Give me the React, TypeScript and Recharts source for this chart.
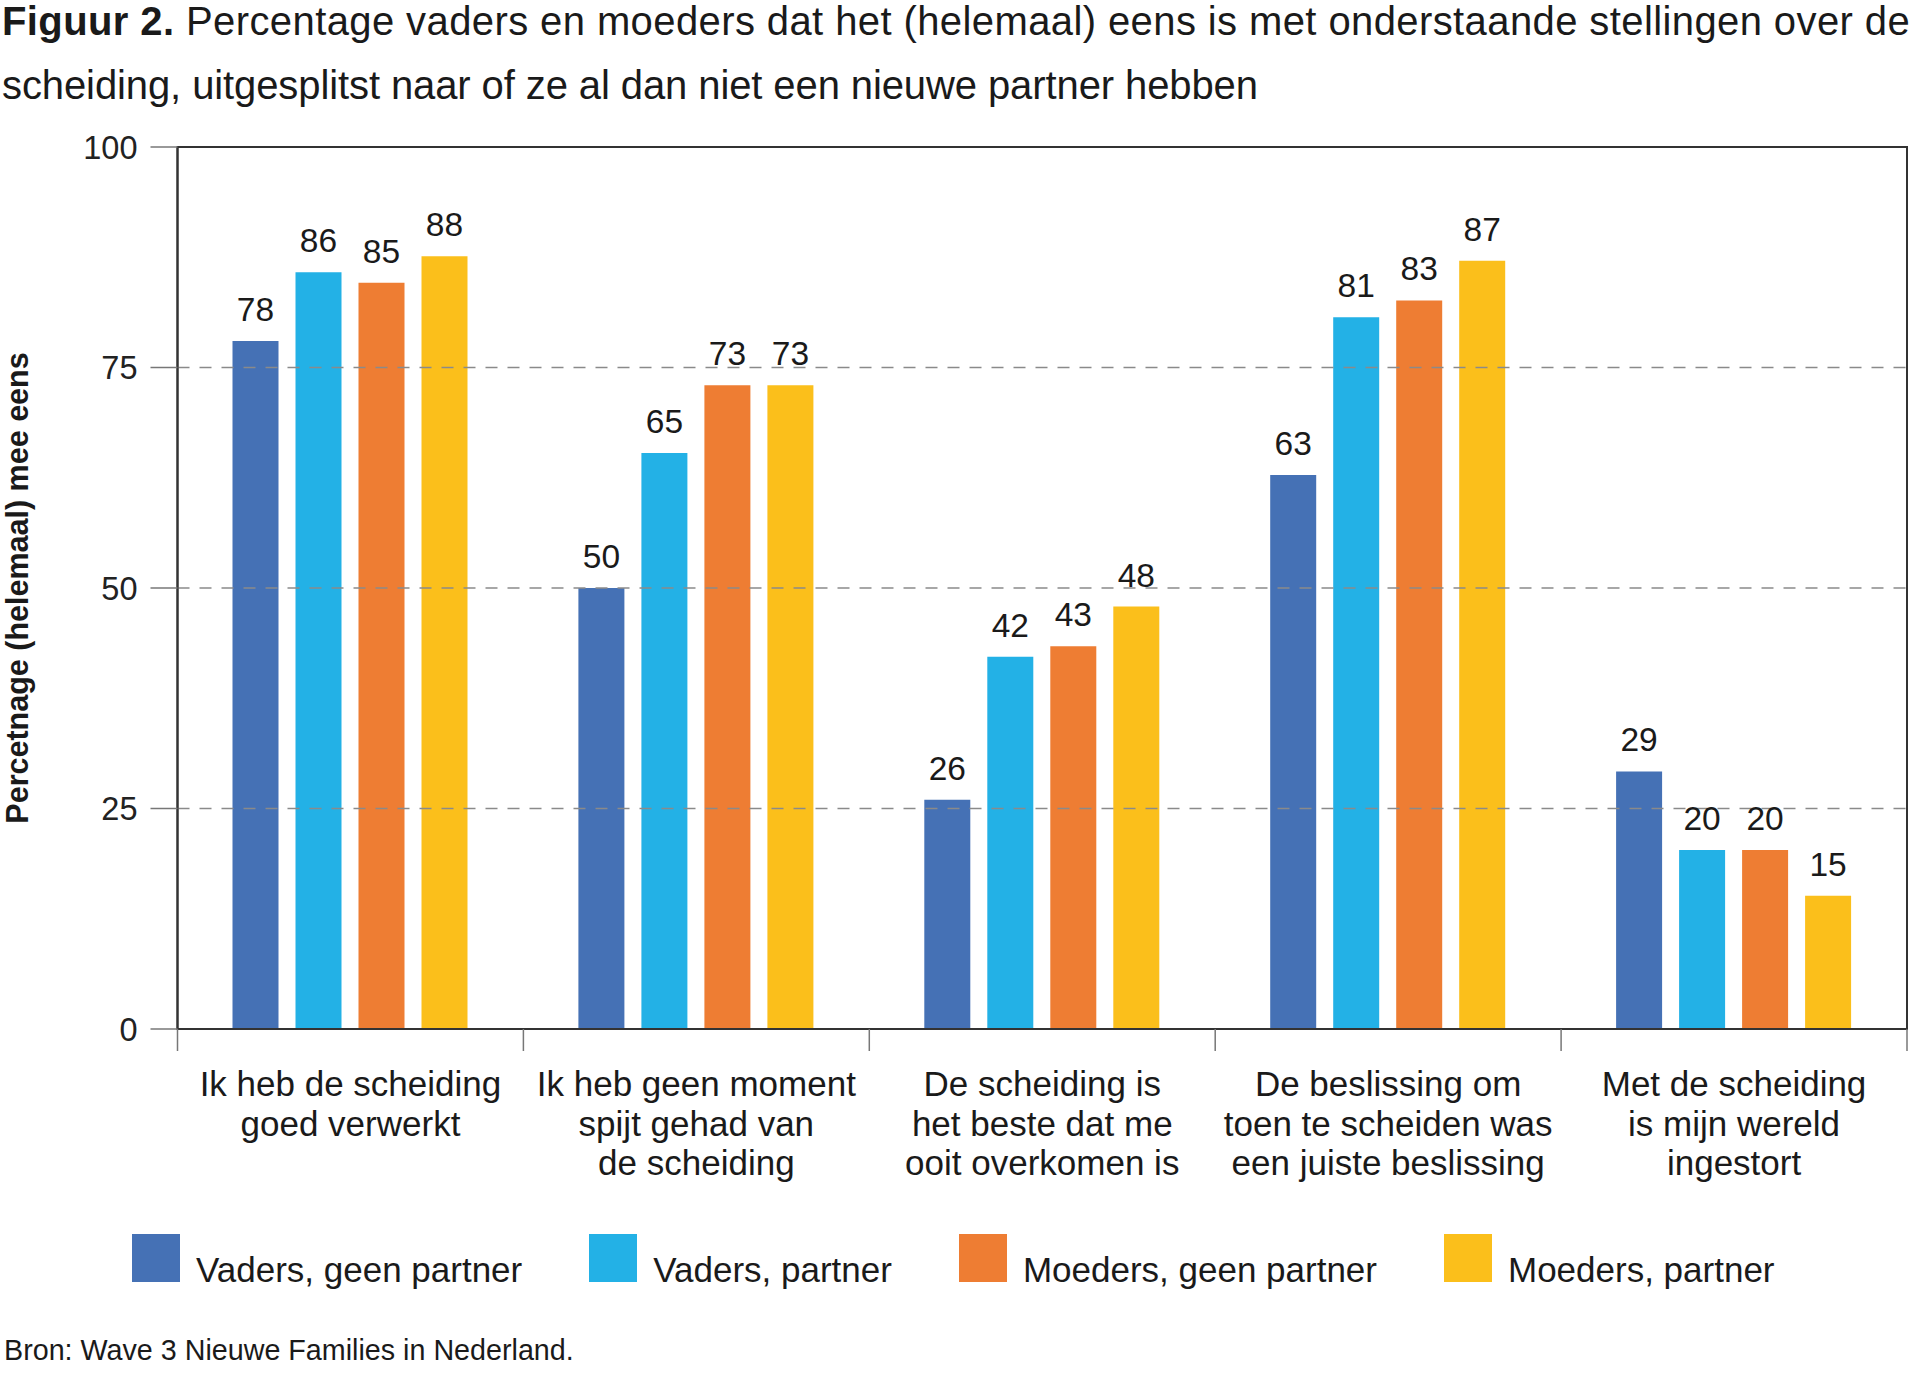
import React from 'react';
import { BarChart, Bar, XAxis, YAxis, ReferenceLine, ReferenceArea, LabelList } from 'recharts';

const FONT = '"Liberation Sans", Arial, Helvetica, sans-serif';

const categories = [
  'Ik heb de scheiding\ngoed verwerkt',
  'Ik heb geen moment\nspijt gehad van\nde scheiding',
  'De scheiding is\nhet beste dat me\nooit overkomen is',
  'De beslissing om\ntoen te scheiden was\neen juiste beslissing',
  'Met de scheiding\nis mijn wereld\ningestort',
];

const vadersGeenPartner = [78, 50, 26, 62.8, 29.2];
const vadersPartner = [85.8, 65.3, 42.2, 80.7, 20.3];
const moedersGeenPartner = [84.6, 73, 43.4, 82.6, 20.3];
const moedersPartner = [87.6, 73, 47.9, 87.1, 15.1];

const seriesKeys = ['vg', 'vp', 'mg', 'mp'];
const seriesNames = ['Vaders, geen partner', 'Vaders, partner', 'Moeders, geen partner', 'Moeders, partner'];
const seriesColors = ['#4571b5', '#23b1e6', '#ee7d33', '#fbbf1b'];

const yTicks = [0, 25, 50, 75, 100];
const gridValues = [25, 50, 75];

const data = categories.map((name, i) => ({
  name,
  vg: vadersGeenPartner[i],
  vp: vadersPartner[i],
  mg: moedersGeenPartner[i],
  mp: moedersPartner[i],
}));

const CHART_W = 1920;
const PLOT_LEFT = 177.5;
const MARGIN_RIGHT = 13;
const BAND = (CHART_W - PLOT_LEFT - MARGIN_RIGHT) / categories.length;

function CategoryTick(props: any) {
  const { x, y, payload, index } = props;
  const half = payload?.offset ? payload.offset : BAND / 2;
  const lines = String(payload.value).split('\n');
  return (
    <g>
      <line x1={x - half} x2={x - half} y1={y} y2={y + 22} stroke="#777" strokeWidth={1.5} />
      {index === categories.length - 1 && (
        <line x1={x + half} x2={x + half} y1={y} y2={y + 22} stroke="#777" strokeWidth={1.5} />
      )}
      <text x={x} y={y + 67} textAnchor="middle" fontSize={35} fill="#1a1a1a" fontFamily={FONT}>
        {lines.map((l, i) => (
          <tspan key={i} x={x} dy={i === 0 ? 0 : 39.5}>
            {l}
          </tspan>
        ))}
      </text>
    </g>
  );
}

function YLabel(props: any) {
  const vb = props.viewBox || { y: 147, height: 881 };
  const cy = vb.y + vb.height / 2;
  return (
    <text
      x={28}
      y={cy}
      transform={`rotate(-90 28 ${cy})`}
      textAnchor="middle"
      fontSize={30.5}
      fontWeight="bold"
      fill="#1a1a1a"
      fontFamily={FONT}
    >
      Percetnage (helemaal) mee eens
    </text>
  );
}

export default function App() {
  return (
    <div
      style={{
        position: 'absolute',
        left: 0,
        top: 0,
        width: 1920,
        height: 1380,
        background: '#fff',
        overflow: 'hidden',
        fontFamily: FONT,
        color: '#1a1a1a',
      }}
    >
      <div
        style={{
          position: 'absolute',
          left: 2,
          top: -11,
          fontSize: 40,
          lineHeight: '64px',
          whiteSpace: 'nowrap',
        }}
      >
        <div style={{ letterSpacing: 0.4 }}>
          <b>Figuur 2.</b> Percentage vaders en moeders dat het (helemaal) eens is met onderstaande stellingen over de
        </div>
        <div style={{ letterSpacing: -0.1 }}>
          scheiding, uitgesplitst naar of ze al dan niet een nieuwe partner hebben
        </div>
      </div>

      <div style={{ position: 'absolute', left: 0, top: 0 }}>
        <BarChart
          width={CHART_W}
          height={1200}
          data={data}
          margin={{ top: 147, right: MARGIN_RIGHT, left: 0, bottom: 21 }}
          barSize={46}
          barGap={17}
        >
          <ReferenceArea y1={0} y2={100} fill="none" stroke="#333" strokeWidth={2} ifOverflow="visible" />
          {gridValues.map((v) => (
            <ReferenceLine key={v} y={v} stroke="#8a8a8a" strokeWidth={1.5} strokeDasharray="12 10" />
          ))}
          <XAxis
            dataKey="name"
            interval={0}
            height={150}
            tickSize={0}
            tickMargin={0}
            tickLine={false}
            axisLine={{ stroke: '#333', strokeWidth: 2 }}
            tick={<CategoryTick />}
          />
          <YAxis
            domain={[0, 100]}
            ticks={yTicks}
            width={PLOT_LEFT}
            tickSize={27}
            tickMargin={13}
            tickLine={{ stroke: '#777', strokeWidth: 1.5 }}
            axisLine={{ stroke: '#333', strokeWidth: 2 }}
            tick={{ fontSize: 32.5, fill: '#222', fontFamily: FONT }}
            label={{ content: <YLabel /> }}
          />
          {seriesKeys.map((k, i) => (
            <Bar key={k} dataKey={k} name={seriesNames[i]} fill={seriesColors[i]} isAnimationActive={false}>
              <LabelList
                dataKey={k}
                position="top"
                offset={20}
                formatter={(v: any) => Math.round(Number(v))}
                fontSize={33.5}
                fill="#1a1a1a"
                fontFamily={FONT}
              />
            </Bar>
          ))}
        </BarChart>
      </div>

      <div
        style={{
          position: 'absolute',
          left: 132,
          top: 1234,
          display: 'flex',
          alignItems: 'baseline',
          fontSize: 35,
          lineHeight: '35px',
          whiteSpace: 'nowrap',
        }}
      >
        {seriesNames.map((n, i) => (
          <React.Fragment key={n}>
            <div style={{ width: 48, height: 48, background: seriesColors[i] }} />
            <span style={{ marginLeft: 16, marginRight: 67 }}>{n}</span>
          </React.Fragment>
        ))}
      </div>

      <div
        style={{
          position: 'absolute',
          left: 4,
          top: 1336,
          fontSize: 28.7,
          lineHeight: '28px',
          whiteSpace: 'nowrap',
        }}
      >
        Bron: Wave 3 Nieuwe Families in Nederland.
      </div>
    </div>
  );
}
